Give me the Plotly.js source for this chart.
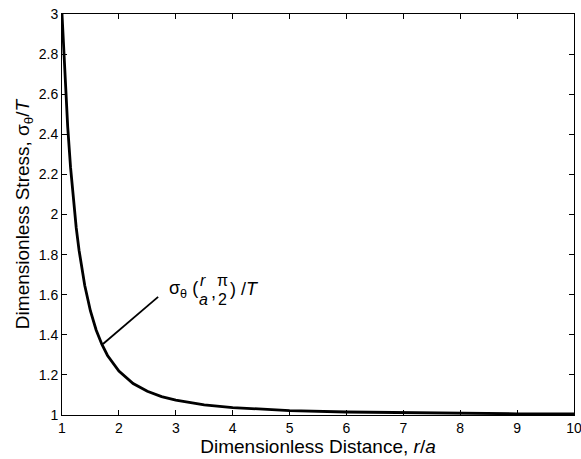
<!DOCTYPE html>
<html>
<head>
<meta charset="utf-8">
<script src="https://cdn.plot.ly/plotly-3.0.1.min.js"></script>
<style>body{margin:0;background:#fff;}#chart{width:581px;height:459px;}</style>
</head>
<body>
<div id="chart"></div>
<script>
const rOverA = [1, 1.05, 1.1, 1.15, 1.2, 1.25, 1.3, 1.4, 1.5, 1.6, 1.7, 1.8, 2, 2.25, 2.5, 2.75, 3, 3.5, 4, 4.5, 5, 6, 7, 8, 9, 10];
const stressRatio = [3.0, 2.688, 2.438, 2.236, 2.071, 1.934, 1.821, 1.646, 1.519, 1.424, 1.353, 1.297, 1.219, 1.157, 1.118, 1.092, 1.074, 1.051, 1.037, 1.028, 1.022, 1.015, 1.011, 1.008, 1.006, 1.005];
const xTicks = [1, 2, 3, 4, 5, 6, 7, 8, 9, 10];
const yTicks = [1, 1.2, 1.4, 1.6, 1.8, 2, 2.2, 2.4, 2.6, 2.8, 3];
const labelAnchor = [2.846, 1.628];
const pointerFrom = [1.72, 1.354];
const pointerTo = [2.69, 1.589];

const font = {family: "Liberation Sans, Arial, sans-serif", color: "#000"};
const axisCommon = {
  showgrid: false, zeroline: false, showline: true, linecolor: "#000", linewidth: 1,
  mirror: "ticks", ticks: "inside", ticklen: 5, tickcolor: "#000",
  ticklabeloverflow: "allow",
  tickfont: Object.assign({size: 14}, font)
};

function lab(text, dx, dy, anchor, size) {
  return {
    x: labelAnchor[0], y: labelAnchor[1], xref: "x", yref: "y",
    xanchor: anchor, yanchor: "middle", xshift: dx, yshift: dy,
    text: text, showarrow: false, font: Object.assign({size: size || 18}, font)
  };
}

Plotly.newPlot("chart", [{
  x: rOverA, y: stressRatio, type: "scatter", mode: "lines",
  line: {color: "#000", width: 2.8}, hoverinfo: "skip"
}], {
  width: 581, height: 459,
  margin: {l: 62, r: 7, t: 14, b: 44},
  paper_bgcolor: "#fff", plot_bgcolor: "#fff",
  showlegend: false,
  xaxis: Object.assign({}, axisCommon, {
    range: [1, 10], tickvals: xTicks, ticktext: xTicks.map(String),
    title: {text: "Dimensionless Distance, <i>r</i>/<i>a</i>", font: Object.assign({size: 19}, font), standoff: 1}
  }),
  yaxis: Object.assign({}, axisCommon, {
    range: [1, 3], tickvals: yTicks, ticktext: yTicks.map(v => String(v)),
    title: {text: "Dimensionless Stress, σ<sub>θ</sub>/<i>T</i>", font: Object.assign({size: 19}, font), standoff: 4}
  }),
  shapes: [{
    type: "line", xref: "x", yref: "y",
    x0: pointerFrom[0], y0: pointerFrom[1], x1: pointerTo[0], y1: pointerTo[1],
    line: {color: "#000", width: 1.8}
  }],
  annotations: [
    lab("σ<sub>θ</sub> (", 0, 0, "left"),
    lab("<i>r</i>", 36, 9, "center", 16),
    lab("<i>a</i>", 36, -10, "center", 16),
    lab(",", 46, -3, "center"),
    lab("π", 55, 9, "center", 16),
    lab("2", 55, -10, "center", 16),
    lab(") /<i>T</i>", 61, 0, "left")
  ]
}, {staticPlot: true});
</script>
</body>
</html>
